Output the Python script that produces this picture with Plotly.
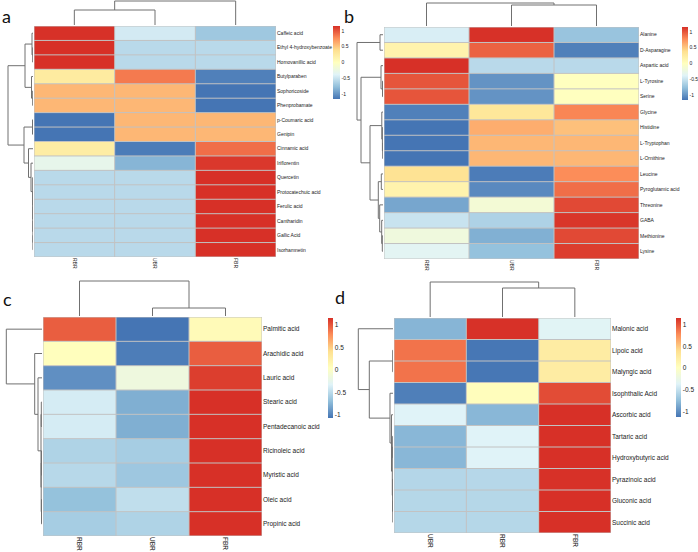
import plotly.graph_objects as go

W, H = 698, 552

# ---------------- data ----------------
rows_a = ["Caffeic acid", "Ethyl 4-hydroxybenzoate", "Homovanillic acid", "Butylparaben",
          "Sophoricoside", "Phenprobamate", "p-Coumaric acid", "Genipin", "Cinnamic acid",
          "Iriflorentin", "Quercetin", "Protocatechuic acid", "Ferulic acid", "Cantharidin",
          "Gallic Acid", "Isorhamnetin"]
cols_a = ["RBR", "UBR", "FBR"]
vals_a = [
    [1.15, -0.45, -0.70],
    [1.155, -0.577, -0.577],
    [1.155, -0.577, -0.577],
    [0.25, 0.85, -1.10],
    [0.577, 0.577, -1.155],
    [0.577, 0.577, -1.155],
    [-1.155, 0.577, 0.577],
    [-1.155, 0.577, 0.577],
    [0.22, -1.12, 0.90],
    [-0.30, -0.82, 1.12],
    [-0.577, -0.577, 1.155],
    [-0.577, -0.577, 1.155],
    [-0.577, -0.577, 1.155],
    [-0.577, -0.577, 1.155],
    [-0.577, -0.577, 1.155],
    [-0.577, -0.577, 1.155],
]
zrange_a = [-1.155, 1.155]
# linkage: (child a, child b, merge height)
rowlink_a = [(1, 2, 0.3), (0, 16, 1.0), (4, 5, 0.3), (3, 18, 1.5), (17, 19, 8),
             (6, 7, 0.5), (14, 15, 0.1), (13, 22, 0.15), (12, 23, 0.2), (11, 24, 0.25),
             (10, 25, 0.3), (9, 26, 2), (8, 27, 4.5), (21, 28, 9), (20, 29, 25)]
collink_a = [(0, 1, 15), (2, 3, 24)]

rows_b = ["Alanine", "D-Asparagine", "Aspartic acid", "L-Tyrosine", "Serine", "Glycine",
          "Histidine", "L-Tryptophan", "L-Ornithine", "Leucine", "Pyroglutamic acid",
          "Threonine", "GABA", "Methionine", "Lysine"]
cols_b = ["RBR", "UBR", "FBR"]
vals_b = [
    [-0.42, 1.15, -0.73],
    [0.15, 0.95, -1.10],
    [1.155, -0.577, -0.577],
    [1.0, -1.0, 0.0],
    [1.0, -1.0, 0.0],
    [-1.10, 0.30, 0.80],
    [-1.155, 0.62, 0.535],
    [-1.155, 0.577, 0.577],
    [-1.155, 0.577, 0.577],
    [0.35, -1.12, 0.77],
    [0.15, -1.05, 0.90],
    [-0.90, -0.15, 1.05],
    [-0.50, -0.63, 1.13],
    [-0.20, -0.85, 1.05],
    [-0.35, -0.75, 1.10],
]
zrange_b = [-1.155, 1.155]
rowlink_b = [(0, 1, 3), (3, 4, 0.5), (2, 16, 2), (7, 8, 0.3), (6, 18, 0.6), (5, 19, 1.2),
             (9, 10, 1.7), (13, 14, 0.7), (12, 22, 1.3), (11, 23, 3.3), (21, 24, 4.7),
             (20, 25, 13), (17, 26, 22), (15, 27, 26)]
collink_b = [(1, 2, 21), (0, 3, 23)]

rows_c = ["Palmitic acid", "Arachidic acid", "Lauric acid", "Stearic acid",
          "Pentadecanoic acid", "Ricinoleic acid", "Myristic acid", "Oleic acid",
          "Propinic acid"]
cols_c = ["RBR", "UBR", "FBR"]
vals_c = [
    [0.97, -1.07, 0.10],
    [0.06, -1.03, 0.97],
    [-0.94, -0.16, 1.10],
    [-0.38, -0.78, 1.155],
    [-0.38, -0.78, 1.155],
    [-0.56, -0.60, 1.155],
    [-0.52, -0.64, 1.155],
    [-0.68, -0.48, 1.155],
    [-0.60, -0.56, 1.155],
]
zrange_c = [-1.07, 1.155]
rowlink_c = [(3, 4, 0.7), (5, 6, 0.5), (7, 8, 0.5), (10, 11, 0.8), (9, 12, 1.0),
             (2, 13, 4), (1, 14, 7.3), (0, 15, 35.7)]
collink_c = [(1, 2, 8), (0, 3, 35)]

rows_d = ["Malonic acid", "Lipoic acid", "Malyngic acid", "Isophthalic Acid",
          "Ascorbic acid", "Tartaric acid", "Hydroxybutyric acid", "Pyrazinoic acid",
          "Gluconic acid", "Succinic acid"]
cols_d = ["UBR", "RBR", "FBR"]
vals_d = [
    [-0.80, 1.15, -0.35],
    [0.88, -1.12, 0.24],
    [0.88, -1.12, 0.24],
    [-1.08, 0.04, 1.04],
    [-0.37, -0.79, 1.155],
    [-0.79, -0.37, 1.155],
    [-0.79, -0.37, 1.155],
    [-0.58, -0.57, 1.15],
    [-0.577, -0.577, 1.155],
    [-0.577, -0.577, 1.155],
]
zrange_d = [-1.13, 1.155]
rowlink_d = [(1, 2, 0.3), (5, 6, 0.3), (8, 9, 0.2), (7, 12, 0.4), (11, 13, 0.7),
             (4, 14, 1.5), (3, 15, 3), (10, 16, 23.7), (0, 17, 34.7)]
collink_d = [(1, 2, 29), (0, 3, 35)]

cb_ticks = [-1, -0.5, 0, 0.5, 1]
cb_text = ["-1", "-0.5", "0", "0.5", "1"]

# ---------------- style ----------------
palette = ["#4575B4", "#91BFDB", "#E0F3F8", "#FFFFBF", "#FEE090", "#FC8D59", "#D73027"]
colorscale = [[i / (len(palette) - 1), c] for i, c in enumerate(palette)]
FONT = "Liberation Sans"
DCOL = "#707070"
GRID = "#c2c2c2"

panels = [
    dict(rows=rows_a, cols=cols_a, z=vals_a, zr=zrange_a, rl=rowlink_a, cl=collink_a,
         hm=(34, 276, 26, 257), fs=5, cb=(333, 26, 73, 7), cbfs=5, letter=("a", 0, 16)),
    dict(rows=rows_b, cols=cols_b, z=vals_b, zr=zrange_b, rl=rowlink_b, cl=collink_b,
         hm=(384, 639, 27, 259), fs=5, cb=(682, 27, 73, 6), cbfs=5, letter=("b", 342, 16)),
    dict(rows=rows_c, cols=cols_c, z=vals_c, zr=zrange_c, rl=rowlink_c, cl=collink_c,
         hm=(43, 262, 317, 536), fs=6.5, cb=(328, 318, 100, 5), cbfs=6.5, letter=("c", 1, 299)),
    dict(rows=rows_d, cols=cols_d, z=vals_d, zr=zrange_d, rl=rowlink_d, cl=collink_d,
         hm=(394, 611, 318, 533), fs=6.5, cb=(676, 318, 99, 5), cbfs=6.5, letter=("d", 333, 297)),
]


def fx(p):
    return min(max(p / W, 0.0), 1.0)


def fy(p):
    return min(max(1 - p / H, 0.0), 1.0)


def dendro(link, n):
    pos = {i: float(i) for i in range(n)}
    hgt = {i: 0.0 for i in range(n)}
    P, Hh = [], []
    for k, (a, b, h) in enumerate(link):
        node = n + k
        P += [pos[a], pos[a], pos[b], pos[b], None]
        Hh += [hgt[a], h, h, hgt[b], None]
        pos[node] = (pos[a] + pos[b]) / 2
        hgt[node] = h
    return P, Hh, max(h for _, _, h in link)


fig = go.Figure()
layout = dict(width=W, height=H, margin=dict(l=0, r=0, t=0, b=0, pad=0, autoexpand=False),
              paper_bgcolor="white", plot_bgcolor="white", showlegend=False,
              font=dict(family=FONT, color="#222222"))
shapes, annotations = [], []

for p, pan in enumerate(panels):
    k1, k2, k3 = 3 * p + 1, 3 * p + 2, 3 * p + 3
    x0, x1, y0, y1 = pan["hm"]
    n, m = len(pan["rows"]), len(pan["cols"])
    cbx, cby, cblen, cbth = pan["cb"]

    fig.add_trace(go.Heatmap(
        z=pan["z"], x=list(range(m)), y=list(range(n)),
        colorscale=colorscale, zmin=pan["zr"][0], zmax=pan["zr"][1],
        xaxis=f"x{k1}", yaxis=f"y{k1}",
        colorbar=dict(x=fx(cbx), xanchor="left", y=fy(cby), yanchor="top",
                      len=cblen, lenmode="pixels", thickness=cbth, thicknessmode="pixels",
                      xpad=0, ypad=0, outlinewidth=0, ticks="",
                      tickvals=cb_ticks, ticktext=cb_text,
                      tickfont=dict(size=pan["cbfs"], family=FONT, color="#222222")),
        hoverinfo="skip"))
    layout[f"xaxis{k1}"] = dict(domain=[fx(x0), fx(x1)], range=[-0.5, m - 0.5],
                                anchor=f"y{k1}", tickvals=list(range(m)), ticktext=pan["cols"],
                                tickangle=90, showgrid=False, zeroline=False, ticks="",
                                automargin=False, fixedrange=True,
                                tickfont=dict(size=pan["fs"], family=FONT, color="#222222"))
    layout[f"yaxis{k1}"] = dict(domain=[fy(y1), fy(y0)], range=[n - 0.5, -0.5],
                                anchor=f"x{k1}", side="right", tickvals=list(range(n)),
                                ticktext=pan["rows"], showgrid=False, zeroline=False, ticks="",
                                automargin=False, fixedrange=True,
                                tickfont=dict(size=pan["fs"], family=FONT, color="#222222"))
    for i in range(m + 1):
        shapes.append(dict(type="line", xref=f"x{k1}", yref=f"y{k1}", x0=i - 0.5, x1=i - 0.5,
                           y0=-0.5, y1=n - 0.5, line=dict(color=GRID, width=1)))
    for j in range(n + 1):
        shapes.append(dict(type="line", xref=f"x{k1}", yref=f"y{k1}", x0=-0.5, x1=m - 0.5,
                           y0=j - 0.5, y1=j - 0.5, line=dict(color=GRID, width=1)))

    # row dendrogram (height axis in pixel-like units)
    P, Hh, root = dendro(pan["rl"], n)
    fig.add_trace(go.Scatter(x=Hh, y=P, mode="lines", line=dict(color=DCOL, width=1),
                             xaxis=f"x{k2}", yaxis=f"y{k2}", hoverinfo="skip"))
    left = max(x0 - root - 3, 0)
    layout[f"xaxis{k2}"] = dict(domain=[fx(left), fx(x0 - 1)], range=[x0 - 1 - left, 0],
                                visible=False, anchor=f"y{k2}", automargin=False, fixedrange=True)
    layout[f"yaxis{k2}"] = dict(domain=[fy(y1), fy(y0)], range=[n - 0.5, -0.5],
                                visible=False, anchor=f"x{k2}", automargin=False, fixedrange=True)

    # column dendrogram
    P, Hh, root = dendro(pan["cl"], m)
    fig.add_trace(go.Scatter(x=P, y=Hh, mode="lines", line=dict(color=DCOL, width=1),
                             xaxis=f"x{k3}", yaxis=f"y{k3}", hoverinfo="skip"))
    top = max(y0 - root - 3, 0)
    layout[f"xaxis{k3}"] = dict(domain=[fx(x0), fx(x1)], range=[-0.5, m - 0.5],
                                visible=False, anchor=f"y{k3}", automargin=False, fixedrange=True)
    layout[f"yaxis{k3}"] = dict(domain=[fy(y0 - 1), fy(top)], range=[0, y0 - 1 - top],
                                visible=False, anchor=f"x{k3}", automargin=False, fixedrange=True)

    lt, lx, ly = pan["letter"]
    annotations.append(dict(text=lt, xref="paper", yref="paper", x=fx(lx), y=fy(ly),
                            xanchor="left", yanchor="middle", showarrow=False,
                            font=dict(family="Lato", size=18, color="#111111")))

layout["shapes"] = shapes
layout["annotations"] = annotations
fig.update_layout(**layout)
fig.write_html("out.html", config={"displayModeBar": False},
               post_script="document.body.style.margin='0px';document.body.style.overflow='hidden';")
